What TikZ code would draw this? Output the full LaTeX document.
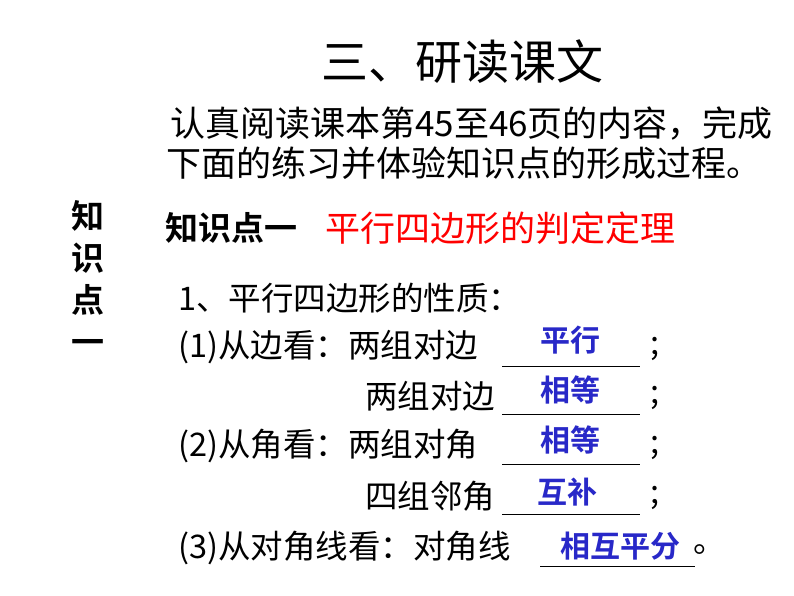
\documentclass[tikz,border=0pt]{standalone}
\usepackage{fontspec}
\setmainfont{Liberation Sans}
\newfontfamily\cjk{Noto Sans CJK SC}
\newfontfamily\cjkb{Noto Sans CJK SC Bold}
\definecolor{ansblue}{RGB}{40,40,200}
\begin{document}
\begin{tikzpicture}[x=1pt,y=-1pt,
  t/.style={anchor=west,inner sep=0pt,font=\fontsize{32.5}{34}\selectfont\cjk},
  ans/.style={anchor=center,inner sep=0pt,font=\fontsize{30}{32}\selectfont\cjkb,text=ansblue},
  ul/.style={line width=0.8pt}]
\useasboundingbox[fill=white] (0,0) rectangle (794,596);
\node[anchor=center,inner sep=0pt,font=\fontsize{47}{50}\selectfont\cjk] (title) at (462,62) {三、研读课文};
\node[anchor=west,inner sep=0pt,font=\fontsize{35}{38}\selectfont\cjk] (l1) at (170,124) {认真阅读课本第45至46页的内容，完成};
\node[anchor=west,inner sep=0pt,font=\fontsize{35}{38}\selectfont\cjk] (l2) at (166,163) {下面的练习并体验知识点的形成过程。};
\node[anchor=north,inner sep=0pt,align=center,font=\fontsize{33}{42}\selectfont\cjkb] (v) at (88,200) {知\\识\\点\\一};
\node[anchor=west,inner sep=0pt,font=\fontsize{33}{34}\selectfont\cjkb] (k1) at (165,228) {知识点一};
\node[anchor=west,inner sep=0pt,font=\fontsize{35}{36}\selectfont\cjk,text=red] (k2) at (325,228) {平行四边形的判定定理};
\node[t] (p0) at (178,298) {1、平行四边形的性质：};
\node[t] (r1) at (178,347) {(1)从边看：两组对边};
\node[t] (r2) at (365,396) {两组对边};
\node[t] (r3) at (178,446) {(2)从角看：两组对角};
\node[t] (r4) at (365,496) {四组邻角};
\node[t] (r5) at (178,548) {(3)从对角线看：对角线};
\coordinate (u1) at (502,366); \draw[ul] (u1) -- ++(138,0);
\coordinate (u2) at (502,414); \draw[ul] (u2) -- ++(138,0);
\coordinate (u3) at (502,464); \draw[ul] (u3) -- ++(138,0);
\coordinate (u4) at (502,514); \draw[ul] (u4) -- ++(138,0);
\coordinate (u5) at (540,566); \draw[ul] (u5) -- ++(155,0);
\node[ans] (a1) at (570,340) {平行};
\node[ans] (a2) at (570,390) {相等};
\node[ans] (a3) at (570,440) {相等};
\node[ans] (a4) at (567,492) {互补};
\node[ans] (a5) at (620,546) {相互平分};
\node[t] (s1) at (650,349) {;};
\node[t] (s2) at (650,398) {;};
\node[t] (s3) at (650,448) {;};
\node[t] (s4) at (650,498) {;};
\node[t] (s5) at (693,550) {。};
\end{tikzpicture}
\end{document}
